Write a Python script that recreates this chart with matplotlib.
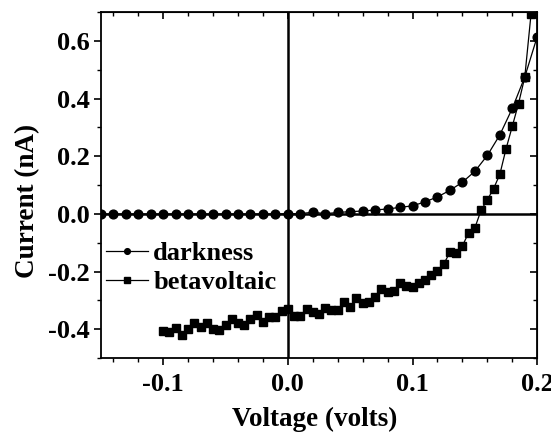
import matplotlib
matplotlib.use("Agg")
import matplotlib.pyplot as plt
from matplotlib.ticker import MultipleLocator

# Darkness: voltage from -0.15 to 0.20 in 0.01 steps
dark_v = [-0.15, -0.14, -0.13, -0.12, -0.11, -0.10, -0.09, -0.08, -0.07, -0.06,
          -0.05, -0.04, -0.03, -0.02, -0.01, 0.00, 0.01, 0.02, 0.03, 0.04,
          0.05, 0.06, 0.07, 0.08, 0.09, 0.10, 0.11, 0.12, 0.13, 0.14,
          0.15, 0.16, 0.17, 0.18, 0.19, 0.20]
dark_i = [0.0, 0.0, 0.0, 0.0, 0.0, 0.0, 0.0, 0.0, 0.0, 0.0,
          0.0, 0.0, 0.0, 0.0, 0.0, 0.001, 0.001, 0.006, 0.001, 0.005,
          0.008, 0.010, 0.014, 0.017, 0.023, 0.028, 0.042, 0.059, 0.082, 0.110,
          0.148, 0.203, 0.274, 0.366, 0.475, 0.615]

# Betavoltaic: voltage from -0.10 to 0.195 in 0.005 steps
beta_v = [-0.100, -0.095, -0.090, -0.085, -0.080, -0.075, -0.070, -0.065, -0.060, -0.055,
          -0.050, -0.045, -0.040, -0.035, -0.030, -0.025, -0.020, -0.015, -0.010, -0.005,
          0.000, 0.005, 0.010, 0.015, 0.020, 0.025, 0.030, 0.035, 0.040, 0.045,
          0.050, 0.055, 0.060, 0.065, 0.070, 0.075, 0.080, 0.085, 0.090, 0.095,
          0.100, 0.105, 0.110, 0.115, 0.120, 0.125, 0.130, 0.135, 0.140, 0.145,
          0.150, 0.155, 0.160, 0.165, 0.170, 0.175, 0.180, 0.185, 0.190, 0.195]
beta_i = [-0.406, -0.409, -0.394, -0.421, -0.398, -0.380, -0.392, -0.378, -0.398, -0.401,
          -0.386, -0.363, -0.378, -0.386, -0.363, -0.351, -0.374, -0.359, -0.359, -0.336,
          -0.331, -0.355, -0.355, -0.328, -0.340, -0.346, -0.325, -0.332, -0.332, -0.307,
          -0.322, -0.293, -0.308, -0.307, -0.288, -0.262, -0.270, -0.267, -0.241, -0.250,
          -0.253, -0.238, -0.230, -0.212, -0.198, -0.174, -0.133, -0.137, -0.111, -0.065,
          -0.048, 0.013, 0.049, 0.088, 0.137, 0.226, 0.304, 0.383, 0.474, 0.692]

xticks = [-0.1, 0.0, 0.1, 0.2]
xticklabels = ["-0.1", "0.0", "0.1", "0.2"]
yticks = [-0.4, -0.2, 0.0, 0.2, 0.4, 0.6]
yticklabels = ["-0.4", "-0.2", "0.0", "0.2", "0.4", "0.6"]

plt.rcParams['font.family'] = ['Liberation Serif', 'DejaVu Serif']
plt.rcParams['font.weight'] = 'bold'

fig = plt.figure(figsize=(5.51, 4.33), dpi=100)
ax = fig.add_axes([0.183, 0.173, 0.792, 0.799])

ax.axhline(0, color='black', lw=1.8, zorder=1)
ax.axvline(0, color='black', lw=1.8, zorder=1)

ax.plot(dark_v, dark_i, '-o', color='black', lw=0.9, ms=6.3, label='darkness', zorder=3)
ax.plot(beta_v, beta_i, '-s', color='black', lw=0.9, ms=6.3, label='betavoltaic', zorder=3)

ax.set_xlim(-0.15, 0.2)
ax.set_ylim(-0.5, 0.7)

ax.set_xticks(xticks)
ax.set_xticklabels(xticklabels)
ax.set_yticks(yticks)
ax.set_yticklabels(yticklabels)
ax.xaxis.set_minor_locator(MultipleLocator(0.02))
ax.yaxis.set_minor_locator(MultipleLocator(0.1))
ax.tick_params(which='major', direction='out', length=5, width=1.2, labelsize=19, pad=3)
ax.tick_params(axis='x', which='major', pad=6)
ax.tick_params(which='minor', direction='out', length=3, width=1.0)
for lab in ax.get_xticklabels() + ax.get_yticklabels():
    lab.set_fontweight('bold')

for s in ax.spines.values():
    s.set_linewidth(1.3)

top = ax.secondary_xaxis('top')
top.set_xticks(xticks)
top.xaxis.set_minor_locator(MultipleLocator(0.02))
top.tick_params(which='major', direction='in', length=5, width=1.2, labeltop=False)
top.tick_params(which='minor', direction='in', length=3, width=1.0)
right = ax.secondary_yaxis('right')
right.set_yticks(yticks)
right.yaxis.set_minor_locator(MultipleLocator(0.1))
right.tick_params(which='major', direction='in', length=5, width=1.2, labelright=False)
right.tick_params(which='minor', direction='in', length=3, width=1.0)

ax.set_xlabel('Voltage (volts)', fontsize=19.5, fontweight='bold')
ax.set_ylabel('Current (nA)', fontsize=19.5, fontweight='bold')
ax.xaxis.set_label_coords(0.49, -0.14)
ax.yaxis.set_label_coords(-0.14, 0.455)

leg = ax.legend(loc='upper left', bbox_to_anchor=(-0.043, 0.405), frameon=False,
                numpoints=1, handlelength=1.6, handletextpad=0.2, labelspacing=0.22,
                prop={'family': 'Liberation Serif', 'weight': 'bold', 'size': 19},
                markerscale=0.65)

fig.savefig('out.png', dpi=100)
